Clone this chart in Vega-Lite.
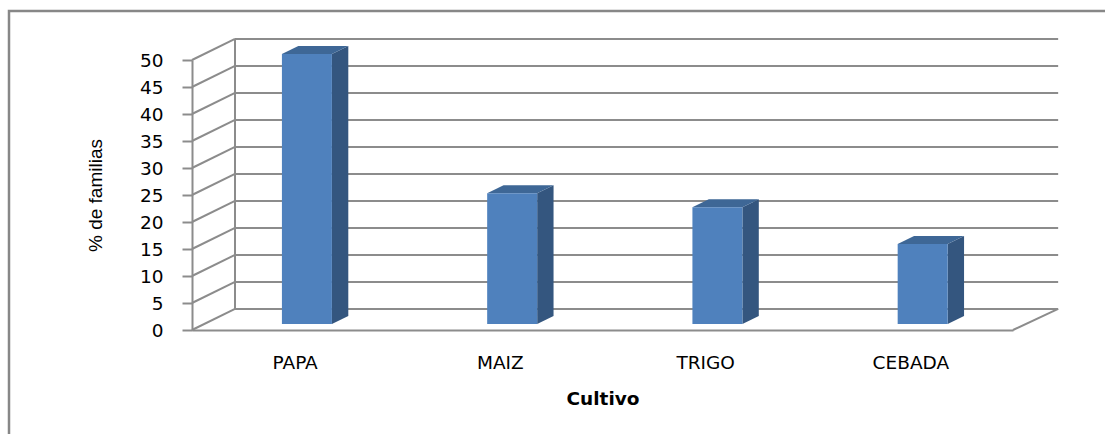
{
  "$schema": "https://vega.github.io/schema/vega-lite/v6.json",
  "width": 1101,
  "height": 428,
  "autosize": "none",
  "padding": {"left": 9, "top": 11, "right": -5, "bottom": -5},
  "background": "white",
  "config": {"view": {"stroke": "#878787", "strokeWidth": 2.5}},
  "datasets": {
    "cultivos": [
      {"cultivo": "PAPA", "pct": 50},
      {"cultivo": "MAIZ", "pct": 24.2},
      {"cultivo": "TRIGO", "pct": 21.6},
      {"cultivo": "CEBADA", "pct": 14.8}
    ],
    "ejes": [
      {"g": 0}, {"g": 5}, {"g": 10}, {"g": 15}, {"g": 20}, {"g": 25},
      {"g": 30}, {"g": 35}, {"g": 40}, {"g": 45}, {"g": 50}
    ]
  },
  "layer": [
    {
      "data": {"name": "ejes"},
      "transform": [{"calculate": "datum.g + 3.9", "as": "yb"}],
      "mark": {"type": "rule", "color": "#8c8c8c", "strokeWidth": 2},
      "encoding": {
        "x": {
          "datum": 0.2095, "type": "quantitative",
          "scale": {"domain": [0, 4], "range": [183, 1004], "nice": false, "zero": false},
          "axis": {
            "title": "Cultivo", "orient": "bottom", "offset": -109,
            "values": [0.5, 1.5, 2.5, 3.5],
            "labelExpr": "['PAPA','MAIZ','TRIGO','CEBADA'][floor(datum.value)]",
            "domain": true, "domainColor": "#8c8c8c", "domainWidth": 2,
            "ticks": false, "tickSize": 0, "grid": false,
            "labelFont": "DejaVu Sans", "labelFontSize": 18.5, "labelColor": "#000000", "labelPadding": 23,
            "titleFont": "DejaVu Sans", "titleFontSize": 18.5, "titleFontWeight": "bold", "titleColor": "#000000", "titlePadding": 18
          }
        },
        "x2": {"datum": 4.22},
        "y": {
          "field": "yb", "type": "quantitative",
          "scale": {"domain": [0, 50], "range": [319, 49], "nice": false, "zero": false},
          "axis": {
            "title": "% de familias", "orient": "left", "offset": -183,
            "values": [0, 5, 10, 15, 20, 25, 30, 35, 40, 45, 50],
            "domain": true, "domainColor": "#8c8c8c", "domainWidth": 2,
            "ticks": true, "tickSize": 10, "tickColor": "#8c8c8c", "tickWidth": 2,
            "grid": false,
            "labelFont": "DejaVu Sans", "labelFontSize": 18.5, "labelColor": "#000000", "labelPadding": 19,
            "titleFont": "Liberation Sans", "titleFontSize": 19, "titleFontWeight": "normal", "titleColor": "#000000", "titlePadding": 34
          }
        }
      }
    },
    {
      "data": {"name": "ejes"},
      "transform": [{"calculate": "datum.g + 3.9", "as": "yb"}],
      "mark": {"type": "rule", "color": "#8c8c8c", "strokeWidth": 2},
      "encoding": {
        "x": {"datum": 0, "type": "quantitative"},
        "x2": {"datum": 0.2095},
        "y": {"field": "g", "type": "quantitative"},
        "y2": {"field": "yb"}
      }
    },
    {
      "data": {"values": [{}]},
      "mark": {"type": "rule", "color": "#8c8c8c", "strokeWidth": 2},
      "encoding": {
        "x": {"datum": 0.2095, "type": "quantitative"},
        "y": {"datum": 3.9, "type": "quantitative"},
        "y2": {"datum": 53.9}
      }
    },
    {
      "data": {"values": [{}]},
      "mark": {"type": "rule", "color": "#8c8c8c", "strokeWidth": 2},
      "encoding": {
        "x": {"datum": 4, "type": "quantitative"},
        "x2": {"datum": 4.22},
        "y": {"datum": 0, "type": "quantitative"},
        "y2": {"datum": 3.9}
      }
    },
    {
      "data": {"name": "cultivos"},
      "transform": [
        {"window": [{"op": "row_number", "as": "i"}]},
        {"calculate": "datum.i - 0.5619", "as": "x0"},
        {"calculate": "datum.x0 + 0.2436", "as": "x1"},
        {"calculate": "datum.pct + 1.115", "as": "t"},
        {"calculate": "[0, 1]", "as": "k"},
        {"flatten": ["k"]},
        {"calculate": "datum.x1 + datum.k * 0.0798", "as": "sx"},
        {"calculate": "1.115 + datum.k * 1.486", "as": "sy"},
        {"calculate": "datum.t + datum.k * 1.486", "as": "sy2"}
      ],
      "mark": {"type": "area", "orient": "vertical", "interpolate": "linear", "color": "#34567f"},
      "encoding": {
        "x": {"field": "sx", "type": "quantitative"},
        "y": {"field": "sy", "type": "quantitative", "stack": null},
        "y2": {"field": "sy2"},
        "detail": {"field": "cultivo"}
      }
    },
    {
      "data": {"name": "cultivos"},
      "transform": [
        {"window": [{"op": "row_number", "as": "i"}]},
        {"calculate": "datum.i - 0.5619", "as": "x0"},
        {"calculate": "datum.x0 + 0.2436", "as": "x1"},
        {"calculate": "datum.pct + 1.115", "as": "t"},
        {"calculate": "[0, 1]", "as": "k"},
        {"flatten": ["k"]},
        {"calculate": "datum.x0 + datum.k * 0.0798", "as": "tx"},
        {"calculate": "datum.x1 + datum.k * 0.0798", "as": "tx2"},
        {"calculate": "datum.t + datum.k * 1.486", "as": "ty"}
      ],
      "mark": {"type": "area", "orient": "horizontal", "interpolate": "linear", "color": "#3e6796"},
      "encoding": {
        "y": {"field": "ty", "type": "quantitative"},
        "x": {"field": "tx", "type": "quantitative", "stack": null},
        "x2": {"field": "tx2"},
        "detail": {"field": "cultivo"}
      }
    },
    {
      "data": {"name": "cultivos"},
      "transform": [
        {"window": [{"op": "row_number", "as": "i"}]},
        {"calculate": "datum.i - 0.5619", "as": "x0"},
        {"calculate": "datum.x0 + 0.2436", "as": "x1"},
        {"calculate": "1.115", "as": "b"},
        {"calculate": "datum.pct + 1.115", "as": "t"}
      ],
      "mark": {"type": "rect", "color": "#4f81bd"},
      "encoding": {
        "x": {"field": "x0", "type": "quantitative"},
        "x2": {"field": "x1"},
        "y": {"field": "b", "type": "quantitative"},
        "y2": {"field": "t"}
      }
    }
  ]
}
